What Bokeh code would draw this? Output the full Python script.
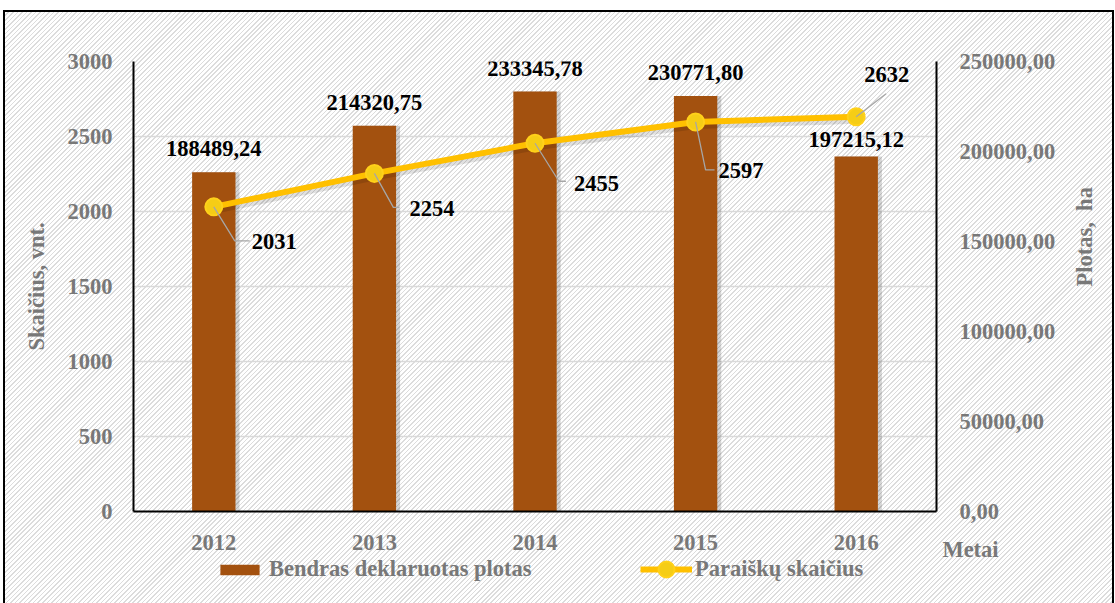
import math
from bokeh.plotting import figure
from bokeh.layouts import column
from bokeh.models import (Range1d, LinearAxis, FixedTicker, Legend, LegendItem,
                          Label, ColumnDataSource)
from bokeh.core.properties import value
from bokeh.embed import file_html
from bokeh.resources import INLINE

# ---------------- data ----------------
years = ["2012", "2013", "2014", "2015", "2016"]
area_ha = [188489.24, 214320.75, 233345.78, 230771.80, 197215.12]
area_labels = ["188489,24", "214320,75", "233345,78", "230771,80", "197215,12"]
applications = [2031, 2254, 2455, 2597, 2632]
app_labels = ["2031", "2254", "2455", "2597", "2632"]
left_ticks = [0, 500, 1000, 1500, 2000, 2500, 3000]
right_ticks = [0, 50000, 100000, 150000, 200000, 250000]
right_tick_labels = ["0,00", "50000,00", "100000,00", "150000,00", "200000,00", "250000,00"]

# ---------------- styles / layout ----------------
FONT = "Liberation Serif"
FS = "22.5px"
GRAY = "#787878"
BAR_COLOR = "#A3510F"
LINE_COLOR = "#FFC000"
W = 1107
ML, MR, MT, MB = 128, 174, 49, 45
FRAME_W, FRAME_H = W - ML - MR, 450
H1 = MT + FRAME_H + MB
H2, OVERLAP = 71, 24
Y_MAX, Y2_MAX = 3000, 250000
PX_PER_X = FRAME_W / len(years)
PX_PER_Y = FRAME_H / Y_MAX

# bar-label gap above each bar (screen px)
bar_label_gap = [16, 16, 15, 16, 10]
# line-label offsets (screen px) and leader-line vertices (screen px) relative to each point
app_label_dx = [38, 35, 39, 23, 8]
app_label_dy = [35, 35, 40, 49, -42]
leader_px = [
    [(0, 0), (21, 34), (36, 34)],
    [(0, 0), (19, 34), (25, 34)],
    [(0, 0), (24, 38), (31, 38)],
    [(0, 0), (10, 48), (19, 48)],
    [(0, 0), (30, -23)],
]

xi = list(range(len(years)))

p = figure(width=W, height=H1,
           min_border_left=ML, min_border_right=MR,
           min_border_top=MT, min_border_bottom=MB,
           x_range=Range1d(-0.5, len(years) - 0.5),
           y_range=Range1d(0, Y_MAX),
           output_backend="svg", toolbar_location=None,
           background_fill_alpha=0, border_fill_alpha=0,
           outline_line_color=None)
p.extra_y_ranges = {"area": Range1d(0, Y2_MAX)}

# grid
p.xgrid.grid_line_color = None
p.ygrid.grid_line_color = "#d9d9d9"
p.ygrid.grid_line_width = 1.5

def style_axis(ax):
    ax.major_tick_line_color = None
    ax.minor_tick_line_color = None
    ax.axis_line_color = "#000000"
    ax.axis_line_width = 2
    ax.major_label_text_font = FONT
    ax.major_label_text_font_style = "bold"
    ax.major_label_text_font_size = FS
    ax.major_label_text_color = GRAY
    ax.axis_label_text_font = FONT
    ax.axis_label_text_font_style = "bold"
    ax.axis_label_text_font_size = FS
    ax.axis_label_text_color = GRAY

# left axis
ly = p.yaxis[0]
ly.ticker = FixedTicker(ticks=left_ticks)
ly.axis_label = "Skaičius, vnt."
style_axis(ly)
ly.major_label_standoff = 15
ly.axis_label_standoff = 16

# bottom axis
bx = p.xaxis[0]
bx.ticker = FixedTicker(ticks=xi)
bx.major_label_overrides = {i: y for i, y in zip(xi, years)}
style_axis(bx)
bx.major_label_standoff = 17

# right axis
ry = LinearAxis(y_range_name="area", ticker=FixedTicker(ticks=right_ticks),
                major_label_overrides={t: l for t, l in zip(right_ticks, right_tick_labels)},
                axis_label="Plotas,\u00a0\u00a0ha")
style_axis(ry)
ry.major_label_standoff = 17
ry.axis_label_standoff = 26
ry.axis_label_orientation = math.pi / 2
ry.axis_label_text_align = "center"
p.add_layout(ry, "right")

# bars (with soft shadow)
src = ColumnDataSource(dict(x=xi, area=area_ha, lab=area_labels,
                            app=applications, applab=app_labels,
                            gap=[-g for g in bar_label_gap],
                            sx=[v + 4 / PX_PER_X for v in xi]))
p.vbar(x="sx", top="area", width=0.27, bottom=0, y_range_name="area",
       fill_color="#000000", fill_alpha=0.16, line_color=None, source=src)
p.vbar(x="x", top="area", width=0.27, bottom=0, y_range_name="area",
       fill_color=BAR_COLOR, line_color=None, source=src)
p.text(x="x", y="area", text="lab", y_range_name="area",
       text_align="center", text_baseline="bottom", y_offset="gap",
       text_font=value(FONT), text_font_style="bold",
       text_font_size=FS, text_color="#000000", source=src)

# line with shadow
p.line([v + 1 / PX_PER_X for v in xi], [a - 4 / PX_PER_Y for a in applications],
       line_color="#000000", line_alpha=0.12, line_width=6)
p.line(x="x", y="app", line_color=LINE_COLOR, line_width=6, source=src)
p.scatter(x="x", y="app", size=17, fill_color="#F5CD16",
          line_color="#FFD11A", line_width=2, source=src)

# leader lines
lxs, lys = [], []
for x, a, verts in zip(xi, applications, leader_px):
    lxs.append([x + dx / PX_PER_X for dx, dy in verts])
    lys.append([a - dy / PX_PER_Y for dx, dy in verts])
p.multi_line(lxs, lys, line_color="#a6a6a6", line_width=1.3)

# line labels
for x, a, t, dx, dy in zip(xi, applications, app_labels, app_label_dx, app_label_dy):
    p.add_layout(Label(x=x, y=a, text=t, x_offset=dx, y_offset=-dy,
                       text_align="left", text_baseline="middle",
                       text_font=FONT, text_font_style="bold",
                       text_font_size=FS, text_color="#000000"))

# ---------------- lower strip: "Metai" caption and legend ----------------
q = figure(width=W, height=H2, margin=(-OVERLAP, 0, 0, 0),
           x_range=Range1d(0, W), y_range=Range1d(0, H2),
           x_axis_location=None, y_axis_location=None,
           min_border=0, output_backend="svg", toolbar_location=None,
           background_fill_alpha=0, border_fill_alpha=0,
           outline_line_color=None)
q.grid.grid_line_color = None
if "frame_align" in q.properties():
    q.frame_align = False
    p.frame_align = False
    metai_x, leg1_x, leg2_x = 965, 210, 635
else:
    metai_x, leg1_x, leg2_x = 905, 82, 507
q.add_layout(Label(x=metai_x, y=H2 - 17, text="Metai", text_align="center",
                   text_baseline="middle", text_font=FONT,
                   text_font_style="bold", text_font_size=FS,
                   text_color=GRAY))
# legend swatches: renderers whose single point lies outside the visible strip
off = ColumnDataSource(dict(x=[-1000], y=[-1000]))
lg_bar = q.vbar(x="x", top="y", width=1, fill_color=BAR_COLOR, line_color=None, source=off)
lg_line = q.line(x="x", y="y", line_color=LINE_COLOR, line_width=6, source=off)
lg_pts = q.scatter(x="x", y="y", size=17, fill_color="#F5CD16",
                   line_color="#FFD11A", line_width=2, source=off)

legend_style = dict(orientation="horizontal", background_fill_alpha=0,
                    border_line_color=None, padding=0, margin=0,
                    label_text_font=FONT, label_text_font_style="bold",
                    label_text_font_size=FS, label_text_color=GRAY)
legend1 = Legend(items=[LegendItem(label="Bendras deklaruotas plotas", renderers=[lg_bar])],
                 location=(leg1_x, 21), glyph_width=49, glyph_height=13,
                 label_standoff=5, **legend_style)
legend2 = Legend(items=[LegendItem(label="Paraiškų skaičius", renderers=[lg_line, lg_pts])],
                 location=(leg2_x, 14), glyph_width=52, glyph_height=40,
                 label_standoff=3, **legend_style)
q.add_layout(legend1)
q.add_layout(legend2)

page = column(p, q, margin=(12, 0, 0, 5), spacing=0,
              styles={
                  "background": "repeating-linear-gradient(135deg, #ffffff 0px, #ffffff 2.1px, #dcdcdc 2.1px, #dcdcdc 3.2px)",
                  "outline": "2px solid #000000",
              })

open("out.html", "w").write(file_html(page, INLINE))
